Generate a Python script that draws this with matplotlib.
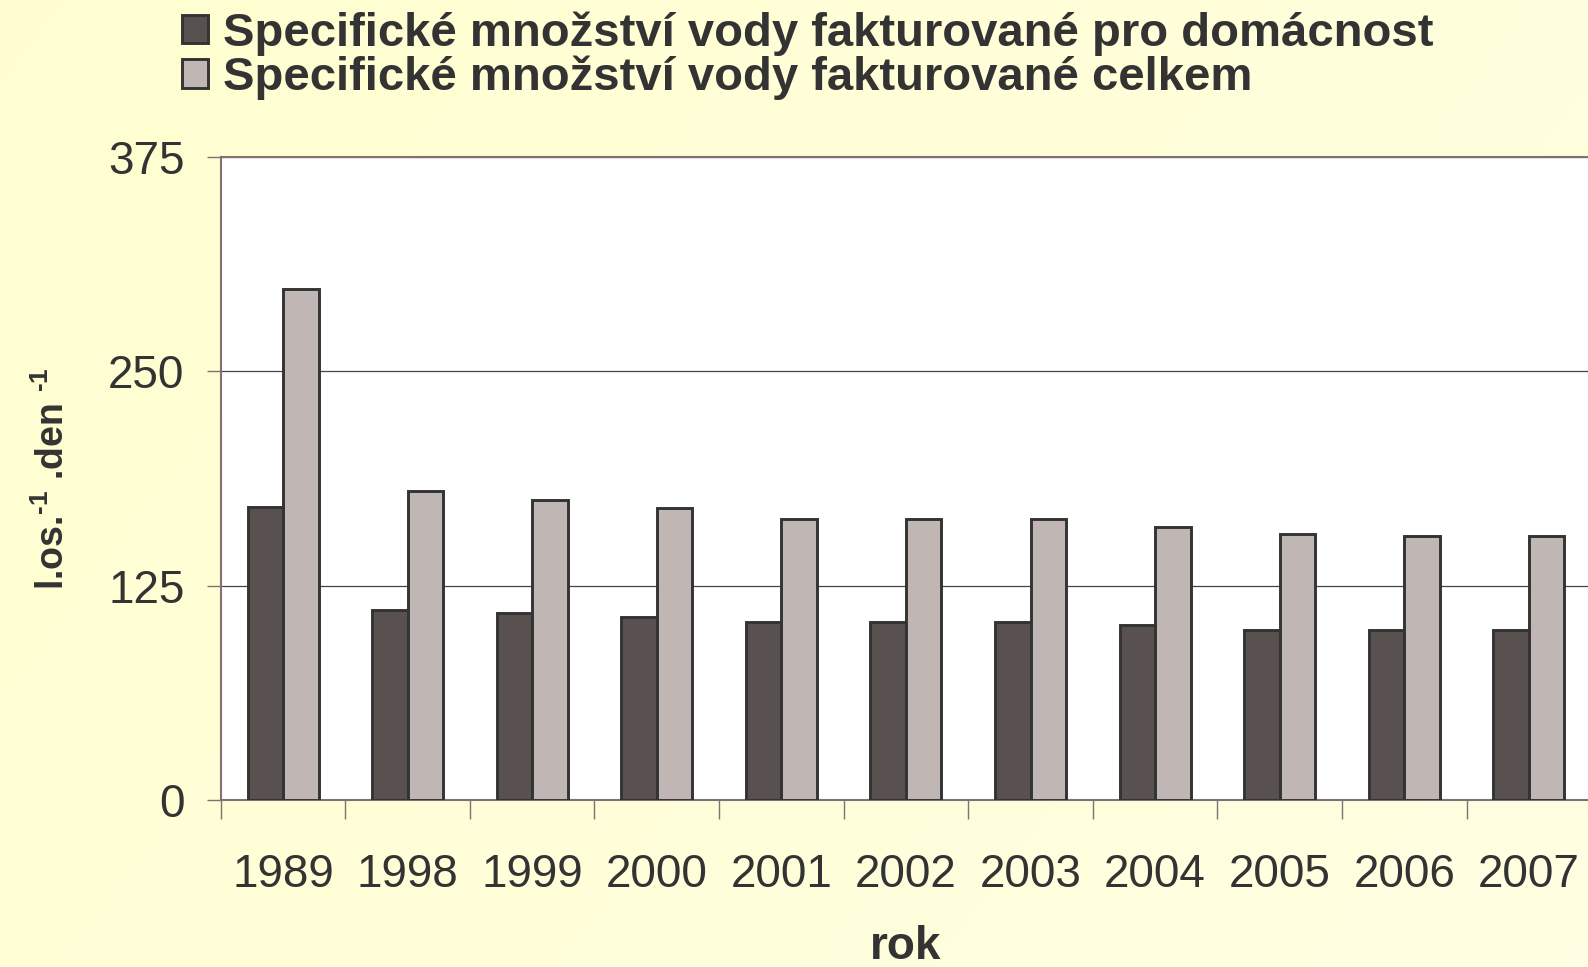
import numpy as np
import matplotlib
matplotlib.use('Agg')
import matplotlib.pyplot as plt

# data
years = ['1989', '1998', '1999', '2000', '2001', '2002', '2003', '2004', '2005', '2006', '2007']
domacnost = [171, 111, 109, 107, 104, 104, 104, 102, 99, 99, 99]
celkem = [298, 180, 175, 170, 164, 164, 164, 159, 155, 154, 154]
labels = ['Specifické množství vody fakturované pro domácnost',
          'Specifické množství vody fakturované celkem']

plt.rcParams['font.family'] = ['Liberation Sans', 'DejaVu Sans']
plt.rcParams['mathtext.fontset'] = 'custom'
plt.rcParams['mathtext.rm'] = 'Liberation Sans:bold'
txt = '#333333'

fig = plt.figure(figsize=(15.88, 9.67), dpi=100)

# background gradient (light yellow)
bg = fig.add_axes([0, 0, 1, 1], zorder=-10)
gx = np.linspace(0, 1, 200)
gy = np.linspace(0, 1, 120)
X, Y = np.meshgrid(gx, gy)
t = np.clip(0.55 * X + 0.25 * (1 - Y), 0, 1)
c0 = np.array([1.0, 0.996, 0.815])
c1 = np.array([1.0, 1.0, 0.905])
img = c0[None, None, :] * (1 - t[..., None]) + c1[None, None, :] * t[..., None]
bg.imshow(img, aspect='auto', extent=[0, 1, 0, 1], origin='lower')
bg.axis('off')

ax = fig.add_axes([0.139, 0.1727, 0.863, 0.665])
ax.set_facecolor('white')
x = np.arange(len(years))
w = 0.285
b1 = ax.bar(x - w / 2, domacnost, w, color='#595050', edgecolor='#333333', linewidth=2.1, zorder=3, label=labels[0])
b2 = ax.bar(x + w / 2, celkem, w, color='#c0b7b5', edgecolor='#333333', linewidth=2.1, zorder=3, label=labels[1])

ax.set_xlim(-0.5, len(years) - 0.5)
ax.set_ylim(0, 375)
ax.set_yticks([0, 125, 250, 375])
ax.yaxis.grid(True, color='#444444', linewidth=0.9, zorder=0)
ax.tick_params(axis='y', length=10, width=1, color='#7f7272', labelsize=33, labelcolor=txt, pad=16)

ax.set_xticks(x)
ax.set_xticklabels(years)
ax.set_xticks(np.arange(-0.5, len(years)), minor=True)
ax.tick_params(axis='x', which='major', length=0, labelsize=33, labelcolor=txt, pad=38)
ax.tick_params(axis='x', which='minor', length=14, width=1, color='#7f7272')

for s in ['left', 'bottom', 'top']:
    ax.spines[s].set_color('#7f7272')
    ax.spines[s].set_linewidth(1.5)
ax.spines['right'].set_visible(False)

ax.set_xlabel('rok', fontsize=33, fontweight='bold', color=txt, labelpad=20)
ax.set_ylabel(r'l.os.$^{\text{-1}}$ .den $^{\text{-1}}$', fontsize=27, fontweight='bold',
              color=txt, labelpad=26)

leg = fig.legend(handles=[b1, b2], labels=labels, loc='upper left', bbox_to_anchor=(0.103, 1.008),
                 frameon=False, fontsize=34, handlelength=0.55, handleheight=0.55,
                 handletextpad=0.3, labelspacing=0.0, borderaxespad=0)
for tx in leg.get_texts():
    tx.set_fontweight('bold')
    tx.set_color(txt)

fig.savefig('out.png', dpi=100)
